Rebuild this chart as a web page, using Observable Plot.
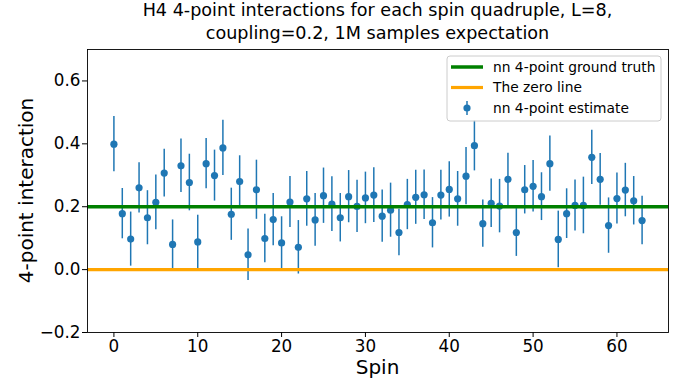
<!DOCTYPE html>
<html>
<head>
<meta charset="utf-8">
<script src="https://cdn.jsdelivr.net/npm/d3@7"></script>
<script src="https://cdn.jsdelivr.net/npm/@observablehq/plot@0.6"></script>
<style>
  html, body { margin: 0; padding: 0; background: white; }
  #chart svg { display: block; }
</style>
</head>
<body>
<div id="chart"></div>
<script>
// Spin index of each quadruple
const spins = d3.range(64);

// Estimated 4-point interaction per spin quadruple (1M samples)
const estimates = [
  0.399, 0.178, 0.097, 0.260, 0.165, 0.214, 0.307, 0.080,
  0.330, 0.277, 0.088, 0.337, 0.299, 0.387, 0.176, 0.280,
  0.047, 0.254, 0.099, 0.159, 0.085, 0.215, 0.071, 0.225,
  0.158, 0.235, 0.208, 0.165, 0.232, 0.201, 0.228, 0.237,
  0.170, 0.189, 0.118, 0.207, 0.230, 0.238, 0.149, 0.237,
  0.255, 0.225, 0.297, 0.394, 0.146, 0.211, 0.202, 0.287,
  0.118, 0.254, 0.265, 0.232, 0.337, 0.096, 0.178, 0.204,
  0.204, 0.357, 0.287, 0.140, 0.226, 0.253, 0.219, 0.156
];

// Half-width of the error bar for each estimate
const errors = [
  0.088, 0.080, 0.086, 0.080, 0.086, 0.087, 0.076, 0.078,
  0.085, 0.090, 0.085, 0.080, 0.081, 0.088, 0.083, 0.082,
  0.082, 0.094, 0.077, 0.083, 0.083, 0.081, 0.085, 0.087,
  0.084, 0.088, 0.087, 0.077, 0.083, 0.083, 0.082, 0.087,
  0.083, 0.086, 0.074, 0.080, 0.086, 0.079, 0.080, 0.079,
  0.088, 0.087, 0.091, 0.080, 0.075, 0.077, 0.085, 0.083,
  0.076, 0.077, 0.082, 0.076, 0.088, 0.090, 0.079, 0.081,
  0.090, 0.086, 0.082, 0.088, 0.081, 0.085, 0.077, 0.077
];

const groundTruth = [0.2];   // nn 4-point coupling
const zeroLine = [0];

const xTicks = [0, 10, 20, 30, 40, 50, 60];
const yTicks = [-0.2, 0.0, 0.2, 0.4, 0.6];

const titleLines = [
  "H4 4-point interactions for each spin quadruple, L=8,",
  "coupling=0.2, 1M samples expectation"
];
const legendLabels = ["nn 4-point ground truth", "The zero line", "nn 4-point estimate"];

const blue = "#1f77b4";
const font = "DejaVu Sans, sans-serif";

const data = spins.map((s, i) => ({spin: s, value: estimates[i], err: errors[i]}));

const W = 682, H = 379;
const mL = 87, mR = 14, mT = 49, mB = 47;

const chart = Plot.plot({
  width: W,
  height: H,
  marginLeft: mL,
  marginRight: mR,
  marginTop: mT,
  marginBottom: mB,
  style: {fontFamily: font, fontSize: "16.8px", background: "white", color: "black", overflow: "visible"},
  x: {domain: [-3.15, 66.15], label: null},
  y: {domain: [-0.2, 0.7], label: null},
  marks: [
    Plot.ruleX(data, {x: "spin", y1: d => d.value - d.err, y2: d => d.value + d.err, stroke: blue, strokeWidth: 1.5}),
    Plot.dot(data, {x: "spin", y: "value", r: 3.6, fill: blue, stroke: "none"}),
    Plot.ruleY(groundTruth, {stroke: "green", strokeWidth: 3.5}),
    Plot.ruleY(zeroLine, {stroke: "orange", strokeWidth: 3.2}),
    Plot.frame({stroke: "black", strokeWidth: 0.9}),
    Plot.axisX({ticks: xTicks, tickFormat: d => String(d), tickSize: 5, tickPadding: 3, fontSize: "16.8px", label: null}),
    Plot.axisY({ticks: yTicks, tickFormat: d3.format(".1f"), tickSize: 5, tickPadding: 2, fontSize: "16.8px", label: null})
  ]
});

document.getElementById("chart").appendChild(chart);

const svg = d3.select(chart);
const cx = mL + (W - mL - mR) / 2;

// Title
const title = svg.append("text")
  .attr("text-anchor", "middle")
  .attr("font-family", font)
  .attr("font-size", "17.6px")
  .attr("fill", "black");
titleLines.forEach((t, i) => {
  title.append("tspan").attr("x", cx).attr("y", 16 + i * 22.5).text(t);
});

// Axis labels
svg.append("text")
  .attr("x", cx).attr("y", 374)
  .attr("text-anchor", "middle")
  .attr("font-family", font).attr("font-size", "20px")
  .text("Spin");

svg.append("text")
  .attr("transform", `translate(33,${mT + (H - mT - mB) / 2}) rotate(-90)`)
  .attr("text-anchor", "middle")
  .attr("font-family", font).attr("font-size", "20px")
  .text("4-point interaction");

// Legend
const lg = svg.append("g").attr("transform", "translate(447,56)");
lg.append("rect")
  .attr("width", 214).attr("height", 65).attr("rx", 3)
  .attr("fill", "white").attr("fill-opacity", 0.8)
  .attr("stroke", "#cccccc").attr("stroke-width", 1);
const rows = [11, 31.5, 52];
lg.append("line").attr("x1", 4).attr("x2", 36).attr("y1", rows[0]).attr("y2", rows[0])
  .attr("stroke", "green").attr("stroke-width", 3.5);
lg.append("line").attr("x1", 4).attr("x2", 36).attr("y1", rows[1]).attr("y2", rows[1])
  .attr("stroke", "orange").attr("stroke-width", 3.2);
lg.append("line").attr("x1", 20).attr("x2", 20).attr("y1", rows[2] - 7).attr("y2", rows[2] + 7)
  .attr("stroke", blue).attr("stroke-width", 1.5);
lg.append("circle").attr("cx", 20).attr("cy", rows[2]).attr("r", 3.6).attr("fill", blue);
legendLabels.forEach((t, i) => {
  lg.append("text")
    .attr("x", 46).attr("y", rows[i])
    .attr("dy", "0.35em")
    .attr("text-anchor", "start")
    .attr("font-family", font).attr("font-size", "13.8px")
    .text(t);
});
</script>
</body>
</html>
